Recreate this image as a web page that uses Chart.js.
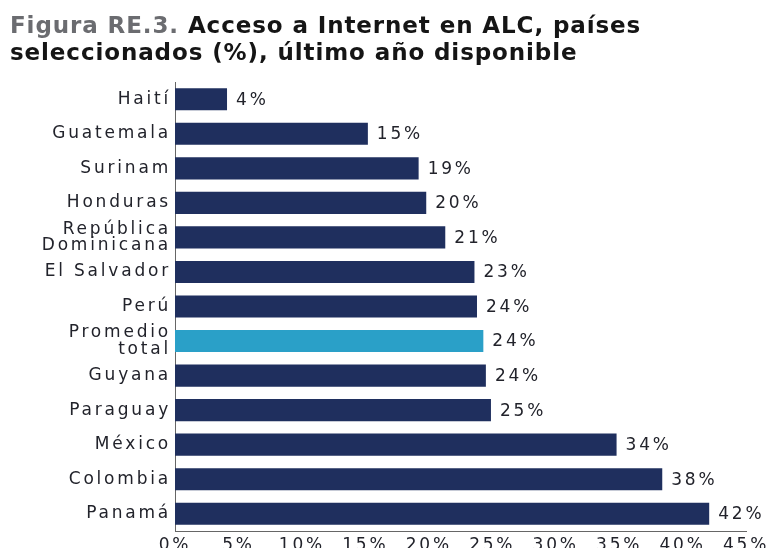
<!DOCTYPE html>
<html>
<head>
<meta charset="utf-8">
<script src="https://cdn.jsdelivr.net/npm/chart.js"></script>
<style>
  body { margin: 0; background: #fff; }
  #wrap { position: relative; width: 769px; height: 548px; }
  #title {
    position: absolute; left: 10px; top: 12px;
    font-family: "DejaVu Sans", sans-serif; font-weight: bold;
    font-size: 23px; line-height: 27px; letter-spacing: 0.9px; color: #151515;
  }
  #title .fig { color: #6b6c70; }
</style>
</head>
<body>
<div id="wrap">
  <div id="title"><span class="fig">Figura RE.3.</span> Acceso a Internet en ALC, países<br>seleccionados (%), último año disponible</div>
  <canvas id="chart" width="769" height="548"></canvas>
</div>
<script>
// Datos
const countries = ['Haití', 'Guatemala', 'Surinam', 'Honduras', ['República', 'Dominicana'], 'El Salvador', 'Perú',
  ['Promedio', 'total'], 'Guyana', 'Paraguay', 'México', 'Colombia', 'Panamá'];
const access = [4.1, 15.2, 19.2, 19.8, 21.3, 23.6, 23.8, 24.3, 24.5, 24.9, 34.8, 38.4, 42.1];
const shownLabels = ['4%', '15%', '19%', '20%', '21%', '23%', '24%', '24%', '24%', '25%', '34%', '38%', '42%'];
const xTicks = [0, 5, 10, 15, 20, 25, 30, 35, 40, 45];

const navy = '#1f2f5e';
const teal = '#2aa0c8';
const textColor = '#22232b';
const barColors = countries.map(c => (Array.isArray(c) && c[0] === 'Promedio') ? teal : navy);

// espaciado amplio entre letras como en el original
const spacing = {
    id: 'spacing',
    beforeDraw(chart) {
        chart.ctx.letterSpacing = '2.8px';
    }
};

const valueLabels = {
    id: 'valueLabels',
    afterDatasetsDraw(chart) {
        const ctx = chart.ctx;
        const meta = chart.getDatasetMeta(0);
        ctx.save();
        ctx.letterSpacing = '2.8px';
        ctx.font = '17px "DejaVu Sans"';
        ctx.fillStyle = textColor;
        ctx.textAlign = 'left';
        ctx.textBaseline = 'middle';
        meta.data.forEach((bar, i) => {
            ctx.fillText(shownLabels[i], bar.x + 9, bar.y + 1);
        });
        ctx.restore();
    }
};

new Chart(document.getElementById('chart'), {
    type: 'bar',
    data: {
        labels: countries,
        datasets: [{
            data: access,
            backgroundColor: barColors,
            categoryPercentage: 0.64,
            barPercentage: 1
        }]
    },
    options: {
        indexAxis: 'y',
        responsive: false,
        animation: false,
        layout: { padding: { top: 82, right: 23, left: 0, bottom: 0 } },
        plugins: {
            legend: { display: false },
            tooltip: { enabled: false }
        },
        scales: {
            x: {
                min: 0,
                max: 45,
                afterBuildTicks(scale) {
                    scale.ticks = xTicks.map(v => ({ value: v }));
                },
                afterFit(scale) { scale.height = 17; },
                grid: { display: false, drawTicks: false },
                border: { display: true, color: '#666', width: 1 },
                ticks: {
                    padding: 4,
                    color: textColor,
                    autoSkip: false,
                    font: { family: 'DejaVu Sans', size: 17 },
                    maxRotation: 0,
                    callback: v => v + '%'
                }
            },
            y: {
                afterFit(scale) { scale.width = 175; },
                grid: { display: false, drawTicks: false },
                border: { display: true, color: '#666', width: 1 },
                ticks: {
                    padding: 4,
                    color: textColor,
                    autoSkip: false,
                    font: { family: 'DejaVu Sans', size: 17, lineHeight: 0.98 }
                }
            }
        }
    },
    plugins: [spacing, valueLabels]
});
</script>
</body>
</html>
